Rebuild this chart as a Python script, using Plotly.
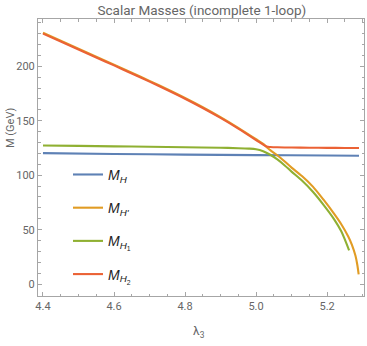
import plotly.graph_objects as go

# readings from the reference picture
lam_upper = [4.40, 4.45, 4.50, 4.55, 4.60, 4.65, 4.70, 4.75, 4.80, 4.85, 4.90, 4.95, 5.00, 5.02]
m_upper = [230.0, 222.7, 215.4, 208.1, 200.8, 193.4, 185.9, 178.2, 170.2, 161.7, 152.6, 142.8, 132.3, 128.0]

lam_h = [4.40, 4.60, 4.80, 5.00, 5.20, 5.29]
m_h = [120.3, 119.5, 118.9, 118.4, 118.1, 117.9]

lam_hp = lam_upper + [5.03, 5.04, 5.06, 5.08, 5.10, 5.13, 5.16, 5.19, 5.22, 5.24, 5.26, 5.27, 5.28, 5.285, 5.289]
m_hp = [v + 0.7 for v in m_upper] + [125.8, 123.0, 118.3, 112.8, 107.0, 99.0, 89.5, 77.5, 64.5, 55.0, 43.5, 36.0, 26.0, 18.0, 9.0]

lam_h1 = [4.40, 4.50, 4.60, 4.70, 4.80, 4.90, 4.95, 4.98, 5.00, 5.02, 5.04, 5.06, 5.08, 5.10, 5.13, 5.16, 5.19, 5.22, 5.24, 5.25, 5.262]
m_h1 = [127.3, 126.9, 126.5, 126.1, 125.7, 125.2, 124.8, 124.4, 123.8, 122.0, 118.8, 114.5, 109.2, 103.3, 94.8, 84.8, 72.8, 59.5, 48.5, 41.0, 31.0]

lam_h2 = lam_upper + [5.03, 5.04, 5.06, 5.10, 5.15, 5.20, 5.25, 5.29]
m_h2 = m_upper + [126.3, 125.9, 125.6, 125.4, 125.2, 125.1, 125.0, 125.0]

names = ["<i>M</i><sub><i>H</i></sub>",
         "<i>M</i><sub><i>H'</i></sub>",
         "<i>M</i><sub><i>H</i><sub>1</sub></sub>",
         "<i>M</i><sub><i>H</i><sub>2</sub></sub>"]
colors = ["#5E81B5", "#E19C24", "#8FB032", "#EB6235"]
series = [(lam_h, m_h), (lam_hp, m_hp), (lam_h1, m_h1), (lam_h2, m_h2)]

font = "Roboto, Liberation Sans, sans-serif"
grey = "#666666"

fig = go.Figure()
for i, (xs, ys) in enumerate(series):
    fig.add_trace(go.Scatter(
        x=xs, y=ys,
        mode="lines",
        name=names[i],
        legendgroup=str(i),
        line=dict(color=colors[i], width=2.1, shape="spline", smoothing=0.8),
    ))

axis_common = dict(
    showline=True, linecolor="#a6a6a6", linewidth=1,
    mirror="allticks", ticks="inside", ticklen=4, tickcolor="#a6a6a6",
    showgrid=False, zeroline=False,
    tickfont=dict(family=font, size=11, color=grey),
)

fig.update_xaxes(
    range=[4.386, 5.304], tick0=4.4, dtick=0.2, tickformat=".1f",
    minor=dict(ticks="inside", dtick=0.05, ticklen=2.5, tickcolor="#a6a6a6"),
    **axis_common,
)
fig.update_yaxes(
    range=[-10.9, 243.4], tick0=0, dtick=50,
    minor=dict(ticks="inside", dtick=10, ticklen=2.5, tickcolor="#a6a6a6"),
    **axis_common,
)

# plot area: x 38..364, y 19..296 (pixels)
fig.update_layout(
    width=367, height=346,
    margin=dict(l=38, r=3, t=19, b=50),
    plot_bgcolor="white", paper_bgcolor="white",
    title=dict(text="Scalar Masses (incomplete 1-loop)", x=0.55, xanchor="center",
               y=0.97, yanchor="middle",
               font=dict(family=font, size=13.5, color=grey)),
    showlegend=True,
    legend=dict(x=0.092, y=0.495, xanchor="left", yanchor="top",
                bgcolor="rgba(0,0,0,0)", tracegroupgap=12,
                font=dict(family="Liberation Sans, Arial, sans-serif", size=14, color="#222222")),
    annotations=[
        dict(text="λ<sub>3</sub>", x=0.495, y=-0.095, xref="paper", yref="paper",
             xanchor="center", yanchor="top", showarrow=False,
             font=dict(family=font, size=12, color=grey)),
        dict(text="M (GeV)", x=-28 / 326, y=(296 - 128) / 277, xref="paper", yref="paper",
             xanchor="center", yanchor="middle", textangle=-90,
             showarrow=False, font=dict(family=font, size=11, color=grey)),
    ],
)

fig.write_html("out.html", config={"displayModeBar": False},
               post_script="document.body.style.margin='0';")
